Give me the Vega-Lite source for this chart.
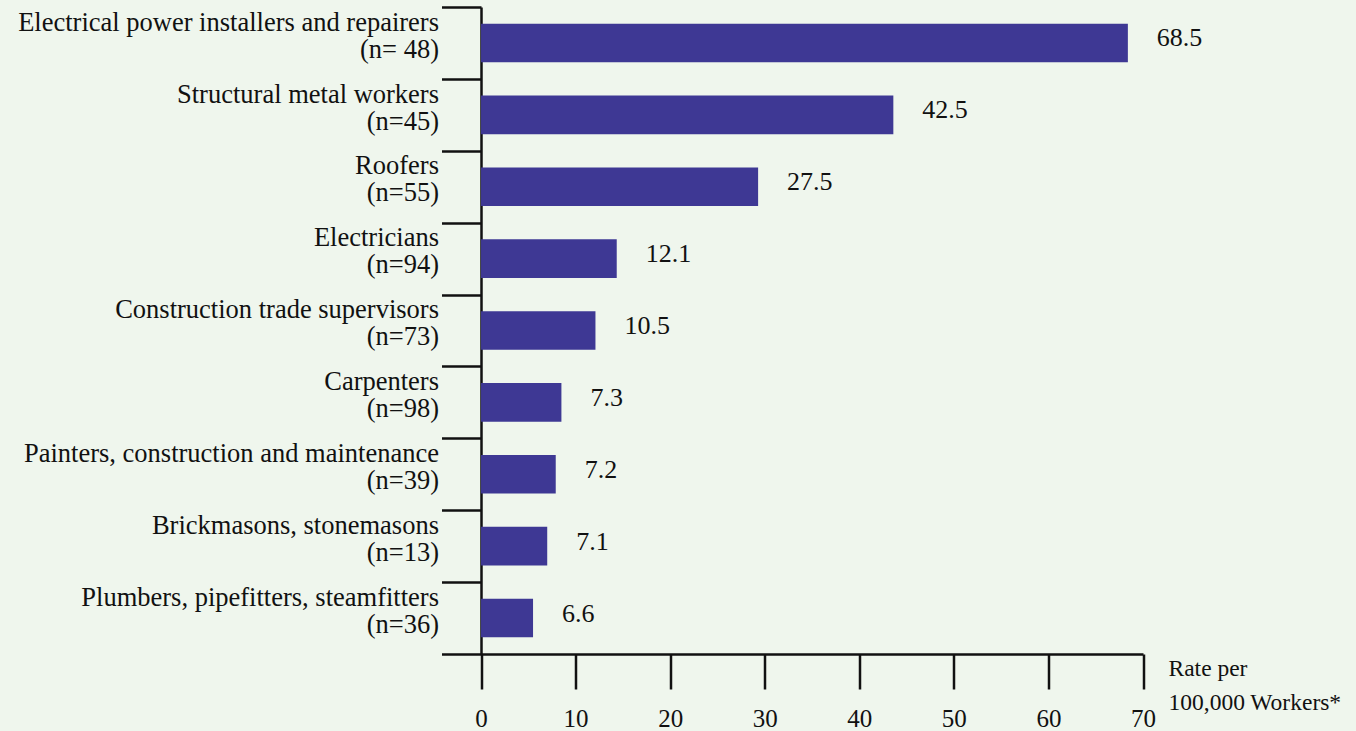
{
  "$schema": "https://vega.github.io/schema/vega-lite/v6.json",
  "width": 701.5,
  "height": 647,
  "autosize": {"type": "none"},
  "padding": {"left": 441.5, "top": 7, "right": 212.5, "bottom": 77},
  "background": "#eff6ed",
  "config": {"view": {"stroke": null}, "font": "Liberation Serif"},
  "data": {
    "values": [
      {"category": "Electrical power installers and repairers\n(n= 48)", "bar_length": 68.4, "rate_label": "68.5"},
      {"category": "Structural metal workers\n(n=45)", "bar_length": 43.6, "rate_label": "42.5"},
      {"category": "Roofers\n(n=55)", "bar_length": 29.3, "rate_label": "27.5"},
      {"category": "Electricians\n(n=94)", "bar_length": 14.35, "rate_label": "12.1"},
      {"category": "Construction trade supervisors\n(n=73)", "bar_length": 12.1, "rate_label": "10.5"},
      {"category": "Carpenters\n(n=98)", "bar_length": 8.5, "rate_label": "7.3"},
      {"category": "Painters, construction and maintenance\n(n=39)", "bar_length": 7.9, "rate_label": "7.2"},
      {"category": "Brickmasons, stonemasons\n(n=13)", "bar_length": 7.0, "rate_label": "7.1"},
      {"category": "Plumbers, pipefitters, steamfitters\n(n=36)", "bar_length": 5.5, "rate_label": "6.6"}
    ]
  },
  "encoding": {
    "y": {
      "field": "category",
      "type": "nominal",
      "sort": null,
      "scale": {"paddingInner": 0.463, "paddingOuter": 0.2315},
      "axis": {
        "title": null,
        "orient": "left",
        "offset": -39.5,
        "tickOffset": -35.94,
        "tickSize": 39.5,
        "tickWidth": 2.5,
        "tickColor": "#111111",
        "domainWidth": 2.5,
        "domainColor": "#111111",
        "labelFont": "Liberation Serif",
        "labelFontSize": 26.5,
        "labelLineHeight": 27,
        "labelPadding": 3,
        "labelOffset": 15.2,
        "labelColor": "#111111",
        "labelAlign": "right",
        "labelBaseline": "middle",
        "labelLimit": 1000,
        "labelExpr": "split(datum.label, '\\n')"
      }
    }
  },
  "layer": [
    {
      "mark": {"type": "bar", "color": "#3e3894"},
      "encoding": {
        "x": {
          "field": "bar_length",
          "type": "quantitative",
          "scale": {"domain": [-4.18, 70], "nice": false, "zero": false},
          "axis": {
            "values": [0, 10, 20, 30, 40, 50, 60, 70],
            "grid": false,
            "tickSize": 35,
            "tickWidth": 2.5,
            "tickColor": "#111111",
            "domainWidth": 2.5,
            "domainColor": "#111111",
            "labelFont": "Liberation Serif",
            "labelFontSize": 25,
            "labelPadding": 17,
            "labelColor": "#111111",
            "labelFlush": false,
            "labelOverlap": false,
            "title": ["Rate per", "100,000 Workers*"],
            "titleFont": "Liberation Serif",
            "titleFontSize": 23.5,
            "titleFontWeight": "normal",
            "titleColor": "#111111",
            "titleLineHeight": 34,
            "titleAlign": "left",
            "titleBaseline": "alphabetic",
            "titleX": 726.5,
            "titleY": 21
          }
        },
        "x2": {"datum": 0}
      }
    },
    {
      "mark": {"type": "text", "align": "left", "baseline": "alphabetic", "dx": 29, "dy": 3.5, "fontSize": 26, "font": "Liberation Serif", "color": "#111111"},
      "encoding": {
        "x": {"field": "bar_length", "type": "quantitative"},
        "text": {"field": "rate_label"}
      }
    }
  ]
}
